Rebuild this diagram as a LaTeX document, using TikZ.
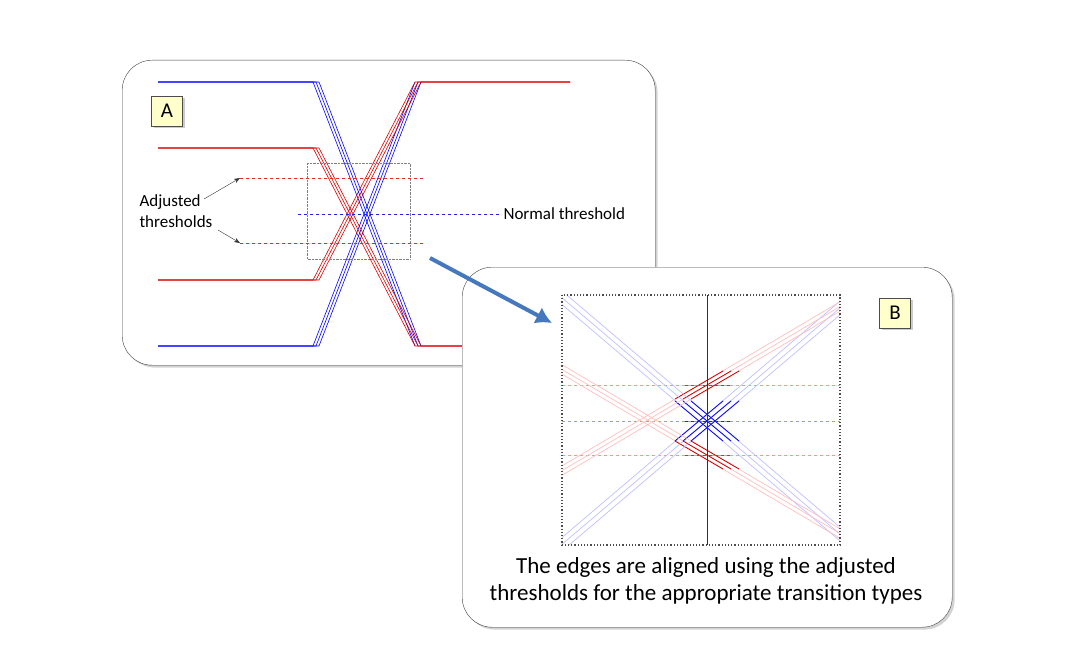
\documentclass[tikz,border=0pt]{standalone}
\usepackage{fontspec}
\setmainfont{Carlito}
\usetikzlibrary{arrows.meta,shadows,positioning}
\definecolor{arrowblue}{RGB}{70,120,190}
\definecolor{labelfill}{RGB}{255,255,204}
\definecolor{paler}{RGB}{245,150,150}
\definecolor{paleb}{RGB}{150,150,245}
\definecolor{threshr}{RGB}{230,40,40}
\definecolor{threshb}{RGB}{30,30,240}
\tikzset{
  panel/.style  = {draw=black!75, fill=white, rounded corners=30pt, drop shadow={opacity=0.35}},
  tag/.style    = {draw=black!70, fill=labelfill, minimum width=31pt, minimum height=30pt,
                   font=\fontsize{21}{21}\selectfont, drop shadow={opacity=0.4}},
  bedge/.style  = {blue, line width=0.6pt},
  redge/.style  = {red!85!black, line width=0.6pt},
  thresh/.style = {dash pattern=on 3pt off 3pt, line width=1pt},
  faintb/.style = {blue!25, line width=0.7pt},
  faintr/.style = {red!25, line width=0.7pt},
}
\begin{document}
\begin{tikzpicture}[x=1pt,y=-1pt,>={Stealth[length=6pt]}]
\useasboundingbox (0,0) rectangle (1086,658);

% panel A
\node[panel, minimum width=533pt, minimum height=305pt, anchor=north west] (pa) at (122,60) {};
\node[tag] (ta) at (167,111) {A};

\foreach \k in {0,1,2} {
  \draw[bedge] (158,82) -- (313+3*\k,82) -- (415+3*\k,346);
  \draw[bedge] (158,346) -- (313+3*\k,346) -- (415+3*\k,82);
  \draw[redge] (158,148) -- (313+3*\k,148) -- (415+3*\k,346) -- (480,346);
  \draw[redge] (158,280) -- (313+3*\k,280) -- (415+3*\k,82) -- (570,82);
}
\draw[gray, densely dotted] (307,163) rectangle (410,259);
\coordinate (hu) at (240,178);
\coordinate (hl) at (240,243);
\draw[thresh, draw=threshr] (hu) -- (423,178) (hl) -- (423,243);
\coordinate (nt) at (298,214);
\node[anchor=west, font=\fontsize{17}{17}\selectfont] (ntl) at (500,214) {Normal threshold};
\draw[thresh, draw=threshb] (nt) -- (ntl.west);
\node[align=left, font=\fontsize{17}{21}\selectfont, anchor=west] (adj) at (136,211) {Adjusted\\thresholds};
\draw[->, black!80] (204,199) -- (hu);
\draw[->, black!80] (218,230) -- (hl);

% panel B
\node[panel, minimum width=490pt, minimum height=360pt, anchor=north west] (pb) at (462,267) {};
\node[tag] (tb) at (895,313) {B};
\begin{scope}
  \clip (562,295) rectangle (840,545);
  \draw[thresh, draw=paler, line width=0.8pt] (562,385) -- (840,385) (562,455) -- (840,455);
  \draw[thresh, draw=paleb, line width=0.8pt] (562,421) -- (840,421);
  \foreach \d in {-8,0,8} {
    % blue edges around the normal threshold
    \draw[faintb] (707+\d-300,421-255) -- (707+\d+300,421+255);
    \draw[faintb] (707+\d-300,421+255) -- (707+\d+300,421-255);
    % red edges around the adjusted thresholds
    \draw[faintr] (707+\d-300,455-177) -- (707+\d+300,455+177);
    \draw[faintr] (707+\d-300,385+177) -- (707+\d+300,385-177);
    \draw[bedge, line width=0.8pt] (707+\d-24,421-20) -- (707+\d+24,421+20);
    \draw[bedge, line width=0.8pt] (707+\d-24,421+20) -- (707+\d+24,421-20);
    \draw[redge, line width=0.8pt] (707+\d-24,455-14) -- (707+\d+24,455+14);
    \draw[redge, line width=0.8pt] (707+\d-24,385+14) -- (707+\d+24,385-14);
  }
  \draw[thresh, draw=threshb] (685,421) -- (730,421);
  \draw[thresh, draw=threshr] (685,385) -- (730,385) (685,455) -- (730,455);
\end{scope}
\draw[black!70, line width=1.2pt, dotted] (562,295) rectangle (840,545);
\draw[black!80] (707,295) -- (707,545);
\node[align=center, font=\fontsize{23}{27}\selectfont] (cap) at (706,581)
  {The edges are aligned using the adjusted\\thresholds for the appropriate transition types};

% zoom arrow
\draw[-{Latex[length=16pt,width=18pt]}, arrowblue, line width=4pt] (430,258) -- (552,323);
\end{tikzpicture}
\end{document}
